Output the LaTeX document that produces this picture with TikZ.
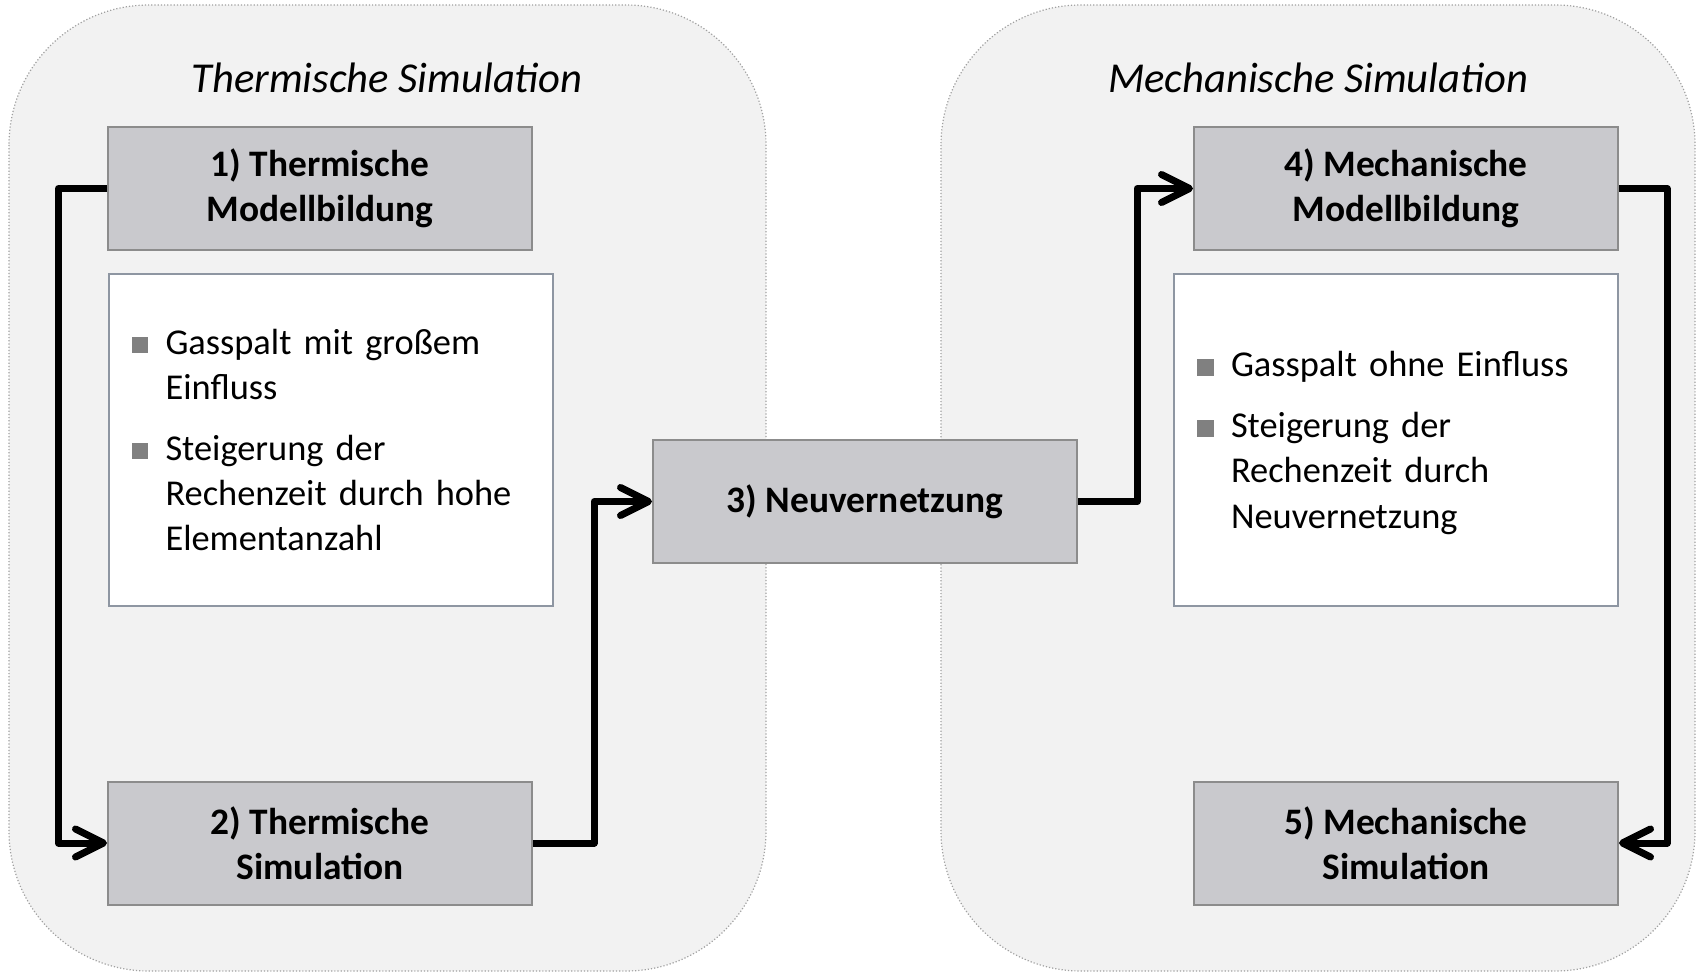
\documentclass[tikz,border=0pt]{standalone}
\usepackage{fontspec}
\setmainfont{Carlito}
\usepackage{xcolor}
\usetikzlibrary{arrows.meta}
\usetikzlibrary{backgrounds}
\definecolor{panelgray}{HTML}{F2F2F2}
\definecolor{panelline}{HTML}{A0A0A0}
\definecolor{stepfill}{HTML}{C9C9CD}
\definecolor{stepline}{HTML}{8C8C8C}
\definecolor{noteline}{HTML}{8E96A2}
\definecolor{bulletgray}{HTML}{808080}
\newcommand{\stepwidth}{212pt}
\newcommand{\stepheight}{61.5pt}
\newcommand{\notewidth}{222pt}
\newcommand{\noteheight}{166pt}
\newcommand{\noteinset}{11.5pt}
\newcommand{\itemgap}{7.6pt}
\newcommand{\topgap}{\rule{0pt}{19.4pt}}
\newcommand{\bulletsq}{\textcolor{bulletgray}{\rule[0.4pt]{8.3pt}{8.3pt}}}
\tikzset{
  panel/.style={draw=panelline, line width=0.6pt, densely dotted,
    fill=panelgray, rounded corners=70pt},
  paneltitle/.style={font=\fontsize{21.3pt}{25pt}\selectfont\itshape},
  stepbox/.style={draw=stepline, line width=1pt, fill=stepfill,
    minimum width=\stepwidth, minimum height=\stepheight, inner sep=0pt,
    align=center, font=\fontsize{18.7pt}{22.7pt}\selectfont\bfseries},
  notebox/.style={draw=noteline, line width=1pt, fill=white,
    minimum width=\notewidth, minimum height=\noteheight,
    inner xsep=\noteinset, text width=\notewidth-2*\noteinset,
    align=left, font=\fontsize{18.2pt}{22.7pt}\selectfont},
  flow/.style={line width=3.5pt, line join=round,
    -{Straight Barb[length=14pt,width=14pt,round]}}
}

\begin{document}
\begin{tikzpicture}[x=0.5pt,y=-0.5pt]
    \useasboundingbox (0,0) rectangle (1696,973);
    % panels
    \draw[panel] (9,5) rectangle (766,971);
    \draw[panel] (941,5) rectangle (1695,971);
    \node[paneltitle] (ttitle) at (387,78) {Thermische Simulation};
    \node[paneltitle] (mtitle) at (1318,78) {Mechanische Simulation};
    % steps
    \node[stepbox] (tmodel) at (320,188.5) {1) Thermische\\Modellbildung};
    \node[stepbox] (tsim) at (320,843) {2) Thermische\\Simulation};
    \node[stepbox] (remesh) at (865,501.5) {3) Neuvernetzung};
    \node[stepbox] (mmodel) at (1406,188.5) {4) Mechanische\\Modellbildung};
    \node[stepbox] (msim) at (1406,843) {5) Mechanische\\Simulation};
    % notes
    \node[notebox] (tnote) at (330.5,440) {%
      \begin{tabular}{@{}p{17pt}@{}l@{}}
        \topgap\bulletsq & Gasspalt mit gro\ss em\\
                  & Einfluss\\[\itemgap]
        \bulletsq & Steigerung der\\
                  & Rechenzeit durch hohe\\
                  & Elementanzahl
      \end{tabular}};
    \node[notebox] (mnote) at (1396,440) {%
      \begin{tabular}{@{}p{17pt}@{}l@{}}
        \topgap\bulletsq & Gasspalt ohne Einfluss\\[\itemgap]
        \bulletsq & Steigerung der\\
                  & Rechenzeit durch\\
                  & Neuvernetzung
      \end{tabular}};
    % flow
    \draw[flow] (tmodel.west) -- ++(-48.5,0) |- (tsim.west);
    \draw[flow] (tsim.east) -- ++(61,0) |- (remesh.west);
    \draw[flow] (remesh.east) -- ++(59,0) |- (mmodel.west);
    \draw[flow] (mmodel.east) -- ++(48,0) |- (msim.east);
  \end{tikzpicture}
\end{document}
